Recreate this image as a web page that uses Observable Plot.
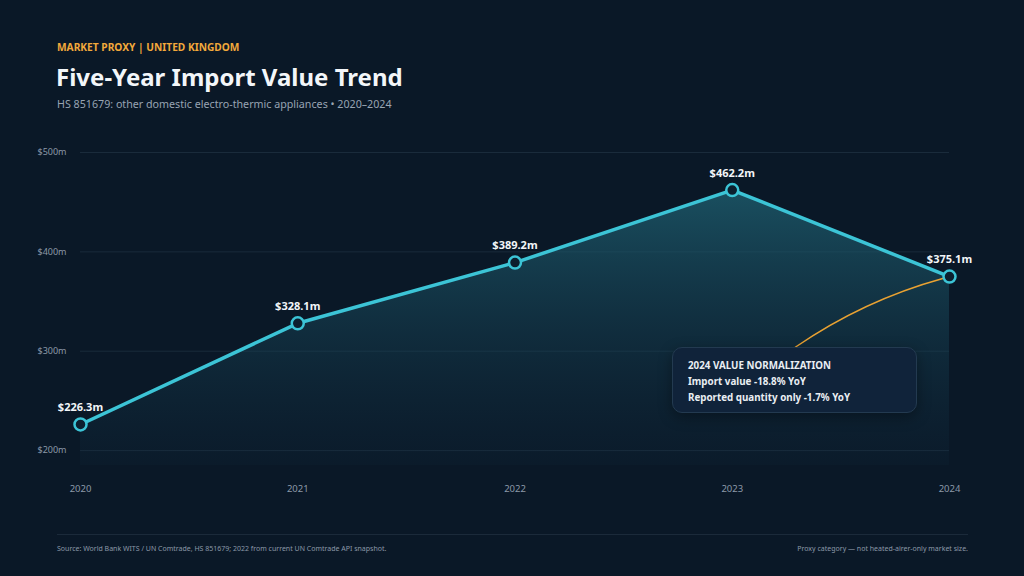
<!DOCTYPE html>
<html><head><meta charset="utf-8">
<script src="https://cdn.jsdelivr.net/npm/d3@7"></script>
<script src="https://cdn.jsdelivr.net/npm/@observablehq/plot@0.6"></script>
<style>
html,body{margin:0;padding:0;background:#0a1827;}
#page{position:relative;width:1024px;height:576px;background:#0a1827;font-family:"Noto Sans",sans-serif;overflow:hidden;}
.abs{position:absolute;white-space:nowrap;}
#kicker{left:57px;top:40px;font-size:10.2px;line-height:14px;font-weight:700;color:#f2a93b;}
#title{left:56px;top:61px;font-size:24px;line-height:32px;font-weight:700;color:#f3f6f9;}
#subtitle{left:57px;top:96px;font-size:10.7px;line-height:16px;color:#98a4b3;}
#chart{left:0;top:130px;}
#rule{left:57px;top:534px;width:911px;height:1px;background:#1b2a3a;}
#src{left:57px;top:544px;font-size:7px;line-height:10px;color:#8c98a7;}
#note{right:56px;top:544px;font-size:7px;line-height:10px;color:#8c98a7;}
#callout{left:672px;top:347px;width:245px;height:66px;border-radius:10px;background:#10233a;border:1px solid #233a50;box-shadow:0 4px 14px rgba(0,0,0,0.35);padding:10px 0 0 15px;box-sizing:border-box;font-size:9.8px;line-height:16px;font-weight:700;color:#e9eef3;}
</style>
</head>
<body>
<div id="page">
  <div id="kicker" class="abs">MARKET PROXY | UNITED KINGDOM</div>
  <div id="title" class="abs">Five-Year Import Value Trend</div>
  <div id="subtitle" class="abs">HS 851679: other domestic electro-thermic appliances • 2020–2024</div>
  <div id="chart" class="abs"></div>
  <div id="callout" class="abs">
    <div>2024 VALUE NORMALIZATION</div>
    <div>Import value -18.8% YoY</div>
    <div>Reported quantity only -1.7% YoY</div>
  </div>
  <div id="rule" class="abs"></div>
  <div id="src" class="abs">Source: World Bank WITS / UN Comtrade, HS 851679; 2022 from current UN Comtrade API snapshot.</div>
  <div id="note" class="abs">Proxy category — not heated-airer-only market size.</div>
</div>
<script>
const years = [2020, 2021, 2022, 2023, 2024];
const values = [226.3, 328.1, 389.2, 462.2, 375.1];
const yTicks = [200, 300, 400, 500];
const calloutAnchor = {x1: 2023.29, y1: 304, x2: 2024, y2: 375.1};

const data = years.map((y, i) => ({year: y, value: values[i]}));
const fmt = v => `$${v.toFixed(1)}m`;

const gradientDefs = () => {
  const ns = "http://www.w3.org/2000/svg";
  const defs = document.createElementNS(ns, "defs");
  defs.innerHTML = `<linearGradient id="areaGrad" x1="0" y1="0" x2="0" y2="1">
      <stop offset="0%" stop-color="#1f6273" stop-opacity="0.75"/>
      <stop offset="100%" stop-color="#123246" stop-opacity="0.12"/>
    </linearGradient>`;
  return defs;
};

const chart = Plot.plot({
  width: 1024,
  height: 380,
  marginLeft: 80,
  marginRight: 75,
  marginTop: 22,
  marginBottom: 45,
  style: {background: "transparent", fontFamily: "Noto Sans, sans-serif", overflow: "visible"},
  x: {domain: [2020, 2024], ticks: years, tickFormat: d => String(d), label: null},
  y: {domain: [185, 500], ticks: yTicks, tickFormat: d => `$${d}m`, label: null},
  marks: [
    gradientDefs,
    Plot.gridY(yTicks, {stroke: "#1a2b3b", strokeOpacity: 1, strokeWidth: 1}),
    Plot.areaY(data, {x: "year", y1: 185, y2: "value", fill: "url(#areaGrad)"}),
    Plot.axisX({ticks: years, tickSize: 0, tickPadding: 20, fontSize: 9.5, fill: "#8c98a7", tickFormat: d => String(d)}),
    Plot.axisY({ticks: yTicks, tickSize: 0, tickPadding: 14, fontSize: 9, fill: "#8c98a7", tickFormat: d => `$${d}m`}),
    Plot.arrow([calloutAnchor], {x1: "x1", y1: "y1", x2: "x2", y2: "y2", bend: 10, headLength: 0, insetEnd: 7, stroke: "#e9a232", strokeWidth: 1.5}),
    Plot.line(data, {x: "year", y: "value", stroke: "#3cc4d6", strokeWidth: 3.5}),
    Plot.dot(data, {x: "year", y: "value", r: 6, fill: "#0c1f2e", stroke: "#3cc4d6", strokeWidth: 2.5}),
    Plot.text(data, {x: "year", y: "value", text: d => fmt(d.value), dy: -17, fill: "#f2f5f8", fontSize: 11, fontWeight: 700})
  ]
});
document.getElementById("chart").appendChild(chart);
</script>
</body></html>
